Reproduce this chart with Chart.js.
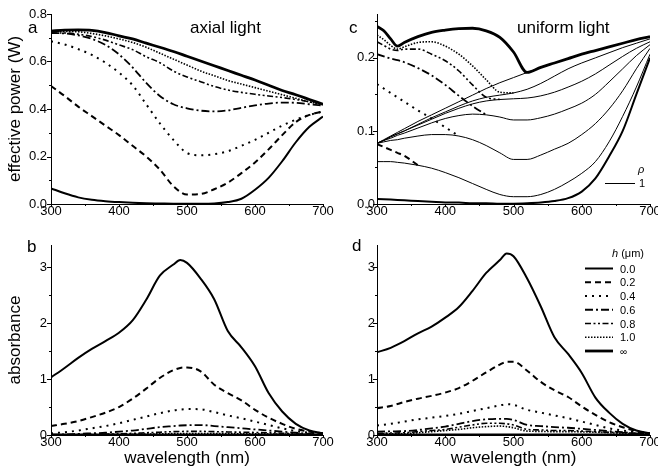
<!DOCTYPE html>
<html>
<head>
<meta charset="utf-8">
<script src="https://cdn.jsdelivr.net/npm/chart.js@4.4.0/dist/chart.umd.min.js"></script>
<style>
  html, body { margin: 0; padding: 0; background: #fff; }
  #wrap { position: relative; width: 658px; height: 473px; overflow: hidden; }
  #wrap canvas { position: absolute; left: 0; top: 0; }
</style>
</head>
<body>
<div id="wrap">
  <canvas id="panelA" width="658" height="473"></canvas>
  <canvas id="panelB" width="658" height="473"></canvas>
  <canvas id="panelC" width="658" height="473"></canvas>
  <canvas id="panelD" width="658" height="473"></canvas>
</div>
<script>
// ---------- data ----------
const hLabels = ['0.0', '0.2', '0.4', '0.6', '0.8', '1.0', '\u221E'];

// (a) effective power (W), axial light
const wavelength = [300,320,340,360,380,400,420,440,460,480,500,520,540,560,580,600,620,640,660,680,700];
const axialH00  = [0.066,0.045,0.028,0.018,0.012,0.008,0.005,0.003,0.002,0.001,0.001,0.001,0.002,0.008,0.022,0.06,0.11,0.18,0.26,0.325,0.368];
const axialH02  = [0.497,0.455,0.41,0.37,0.33,0.29,0.245,0.2,0.145,0.075,0.04,0.042,0.062,0.09,0.13,0.175,0.23,0.29,0.345,0.375,0.39];
const axialH04  = [0.685,0.672,0.652,0.628,0.595,0.553,0.5,0.42,0.34,0.27,0.215,0.205,0.21,0.222,0.245,0.27,0.3,0.33,0.355,0.375,0.39];
const axialH06  = [0.72,0.718,0.71,0.695,0.67,0.63,0.575,0.51,0.455,0.42,0.403,0.393,0.39,0.394,0.405,0.415,0.423,0.427,0.426,0.42,0.415];
const axialH08  = [0.72,0.72,0.715,0.705,0.69,0.67,0.65,0.62,0.595,0.56,0.535,0.515,0.495,0.48,0.47,0.462,0.455,0.448,0.44,0.43,0.42];
const axialH10  = [0.725,0.727,0.725,0.718,0.708,0.695,0.68,0.66,0.635,0.61,0.585,0.56,0.54,0.52,0.505,0.49,0.475,0.46,0.445,0.43,0.418];
const axialHInf = [0.728,0.732,0.733,0.731,0.722,0.708,0.695,0.677,0.66,0.642,0.622,0.602,0.582,0.562,0.542,0.522,0.5,0.478,0.46,0.44,0.42];

// (b) and (d) absorbance
const absWave = [300,320,340,360,380,400,420,440,460,480,490,500,520,540,560,580,600,620,640,660,680,700];
const absAxialH00  = [1.03,1.2,1.38,1.54,1.68,1.83,2.05,2.42,2.85,3.05,3.13,3.08,2.8,2.43,1.86,1.57,1.23,0.75,0.42,0.2,0.08,0.03];
const absAxialH02  = [0.16,0.2,0.25,0.32,0.4,0.5,0.65,0.83,1.02,1.16,1.2,1.21,1.14,0.9,0.75,0.62,0.45,0.31,0.2,0.11,0.06,0.03];
const absAxialH04  = [0.03,0.05,0.08,0.12,0.16,0.21,0.27,0.33,0.39,0.44,0.455,0.465,0.46,0.41,0.35,0.3,0.24,0.18,0.12,0.07,0.04,0.02];
const absAxialH06  = [0.005,0.01,0.02,0.03,0.04,0.06,0.08,0.11,0.14,0.16,0.17,0.175,0.178,0.16,0.14,0.12,0.1,0.08,0.06,0.04,0.02,0.01];
const absAxialH08  = [0.002,0.004,0.007,0.01,0.015,0.02,0.03,0.04,0.05,0.06,0.063,0.065,0.065,0.06,0.055,0.05,0.045,0.04,0.032,0.022,0.012,0.006];
const absAxialH10  = [0.001,0.002,0.003,0.005,0.007,0.01,0.013,0.017,0.021,0.025,0.027,0.028,0.028,0.027,0.025,0.023,0.021,0.019,0.016,0.012,0.007,0.004];
const absAxialHInf = [0,0,0,0,0,0,0,0,0,0,0,0,0,0,0,0,0,0,0,0,0,0];

const absUniformH00  = [1.48,1.56,1.68,1.82,1.94,2.1,2.29,2.58,2.9,3.13,3.25,3.2,2.8,2.3,1.75,1.45,1.11,0.67,0.4,0.2,0.08,0.03];
const absUniformH02  = [0.48,0.52,0.59,0.65,0.7,0.76,0.84,0.97,1.12,1.26,1.31,1.31,1.15,0.95,0.8,0.68,0.51,0.36,0.23,0.14,0.07,0.03];
const absUniformH04  = [0.17,0.2,0.24,0.28,0.31,0.34,0.38,0.43,0.48,0.53,0.55,0.54,0.45,0.4,0.35,0.3,0.24,0.18,0.12,0.08,0.05,0.03];
const absUniformH06  = [0.06,0.065,0.07,0.09,0.12,0.15,0.2,0.25,0.28,0.29,0.29,0.27,0.18,0.16,0.14,0.13,0.11,0.09,0.07,0.05,0.03,0.02];
const absUniformH08  = [0.03,0.035,0.04,0.06,0.08,0.1,0.14,0.18,0.21,0.21,0.2,0.18,0.1,0.09,0.08,0.08,0.07,0.06,0.05,0.04,0.03,0.02];
const absUniformH10  = [0.02,0.022,0.025,0.04,0.06,0.08,0.1,0.13,0.15,0.16,0.15,0.13,0.07,0.065,0.06,0.06,0.055,0.05,0.04,0.03,0.02,0.015];
const absUniformHInf = [0,0,0,0,0,0,0,0,0,0,0,0,0,0,0,0,0,0,0,0,0,0];

// (c) effective power (W), uniform light
const uniWave = [300,310,320,330,340,360,380,400,420,440,460,480,500,520,540,560,580,600,620,640,660,680,700];
// thin solid curves (rho = 1)
const uniRhoH00  = [0.007,0.0065,0.006,0.0055,0.005,0.004,0.003,0.002,0.002,0.001,0.001,0.0005,0.0005,0.001,0.002,0.004,0.008,0.017,0.035,0.065,0.1,0.15,0.2];
const uniRhoH02  = [0.058,0.058,0.058,0.057,0.056,0.053,0.049,0.043,0.036,0.028,0.02,0.013,0.01,0.01,0.013,0.02,0.03,0.042,0.058,0.085,0.12,0.16,0.205];
const uniRhoH04  = [0.083,0.085,0.087,0.088,0.09,0.093,0.095,0.095,0.093,0.088,0.08,0.07,0.061,0.061,0.067,0.075,0.083,0.095,0.11,0.13,0.155,0.185,0.213];
const uniRhoH06  = [0.083,0.087,0.09,0.094,0.097,0.104,0.111,0.117,0.121,0.123,0.122,0.119,0.115,0.115,0.118,0.123,0.13,0.138,0.15,0.167,0.185,0.203,0.218];
const uniRhoH08  = [0.083,0.087,0.092,0.096,0.1,0.108,0.116,0.124,0.131,0.137,0.141,0.143,0.144,0.145,0.148,0.153,0.16,0.168,0.178,0.19,0.202,0.213,0.222];
const uniRhoH10  = [0.083,0.087,0.092,0.096,0.1,0.109,0.118,0.126,0.134,0.141,0.146,0.149,0.152,0.157,0.165,0.175,0.185,0.193,0.2,0.207,0.214,0.22,0.226];
const uniRhoHInf = [0.083,0.088,0.093,0.098,0.103,0.113,0.122,0.131,0.14,0.149,0.158,0.166,0.173,0.18,0.187,0.193,0.199,0.205,0.21,0.215,0.22,0.225,0.229];
// styled curves, ending where they join their thin solid curve
const uniH02  = [0.082,0.078,0.074,0.07,0.066,0.053,null,null,null,null,null,null,null,null,null,null,null,null,null,null,null,null,null];
const uniH04  = [0.164,0.158,0.152,0.146,0.14,0.128,0.117,0.105,0.093,null,null,null,null,null,null,null,null,null,null,null,null,null,null];
const uniH06  = [0.205,0.202,0.199,0.197,0.194,0.186,0.176,0.163,0.148,0.134,0.122,null,null,null,null,null,null,null,null,null,null,null,null];
const uniH08  = [0.222,0.217,0.212,0.21,0.212,0.212,0.205,0.196,0.182,0.163,0.146,0.143,null,null,null,null,null,null,null,null,null,null,null];
const uniH10  = [0.231,0.225,0.217,0.212,0.215,0.221,0.222,0.216,0.205,0.189,0.17,0.153,0.152,null,null,null,null,null,null,null,null,null,null];
const uniHInf = [0.243,0.237,0.226,0.216,0.221,0.229,0.235,0.238,0.24,0.2405,0.237,0.228,0.208,0.18,0.187,0.193,0.199,0.205,0.21,0.215,0.22,0.225,0.229];

// ---------- styles ----------
const FONT = '"Liberation Sans", Arial, Helvetica, sans-serif';
const lineStyles = [
  { dash: [],                 width: 2.0 },  // 0.0
  { dash: [6, 4],             width: 2.0 },  // 0.2
  { dash: [2, 5],             width: 2.0 },  // 0.4
  { dash: [8, 3, 2, 3],       width: 1.8 },  // 0.6
  { dash: [6, 2.5, 2, 2.5, 2, 2.5], width: 1.6 }, // 0.8
  { dash: [1.5, 1.5],         width: 1.6 },  // 1.0
  { dash: [],                 width: 2.8 }   // infinity
];

function toPoints(xs, ys) {
  return xs.map((x, i) => ({ x: x, y: ys[i] }));
}
function styledSet(xs, ys, k, extra) {
  return Object.assign({
    label: 'h = ' + hLabels[k],
    data: toPoints(xs, ys),
    borderColor: '#000',
    borderWidth: lineStyles[k].width,
    borderDash: lineStyles[k].dash,
    pointRadius: 0,
    fill: false,
    cubicInterpolationMode: 'monotone',
    spanGaps: false
  }, extra || {});
}

// major/minor tick marks drawn outside the axes
function tickMarks(xMajor, xMinor, yMajor, yMinor) {
  return {
    id: 'tickMarks',
    afterDraw(chart) {
      const { ctx, chartArea: a, scales: { x, y } } = chart;
      ctx.save();
      ctx.strokeStyle = '#000';
      ctx.lineWidth = 1;
      ctx.setLineDash([]);
      ctx.beginPath();
      const isMajor = (v, m) => Math.abs(v / m - Math.round(v / m)) < 1e-6;
      for (let i = 0; x.min + i * xMinor <= x.max + 1e-9; i++) {
        const v = x.min + i * xMinor;
        const px = Math.round(x.getPixelForValue(v)) + 0.5;
        ctx.moveTo(px, a.bottom);
        ctx.lineTo(px, a.bottom + (isMajor(v, xMajor) ? 3 : 2));
      }
      for (let i = 0; y.min + i * yMinor <= y.max + 1e-9; i++) {
        const v = y.min + i * yMinor;
        const py = Math.round(y.getPixelForValue(v)) + 0.5;
        ctx.moveTo(a.left, py);
        ctx.lineTo(a.left - (isMajor(v, yMajor) ? 4 : 2), py);
      }
      ctx.stroke();
      ctx.restore();
    }
  };
}

function makePanel(id, p) {
  const W = 658, H = 473;
  const decor = { id: 'decor', afterDraw(chart) { chart.ctx.save(); p.decor(chart.ctx); chart.ctx.restore(); } };
  return new Chart(document.getElementById(id), {
    type: 'line',
    data: { datasets: p.datasets },
    options: {
      responsive: false,
      animation: false,
      devicePixelRatio: 1,
      layout: {
        padding: {
          left: p.area.left - p.yAxisW,
          top: p.area.top,
          right: W - p.area.right,
          bottom: H - p.area.bottom - p.xAxisH
        }
      },
      plugins: { legend: { display: false }, tooltip: { enabled: false } },
      scales: {
        x: {
          type: 'linear', min: 300, max: 700,
          afterFit(s) { s.height = p.xAxisH; s.paddingLeft = 0; s.paddingRight = 0; },
          grid: { display: false, drawTicks: false },
          border: { display: true, color: '#000', width: 1 },
          ticks: { stepSize: 100, includeBounds: false, autoSkip: false, maxRotation: 0, padding: 0,
                   color: '#000', font: { family: FONT, size: 13 }, callback: v => String(v) },
          title: p.xTitle ? { display: true, text: p.xTitle, color: '#000',
                   font: { family: FONT, size: 17 }, padding: { top: 0, bottom: 4 } } : { display: false }
        },
        y: {
          type: 'linear', min: 0, max: p.yMax,
          afterFit(s) { s.width = p.yAxisW; s.paddingTop = 0; s.paddingBottom = 0; },
          grid: { display: false, drawTicks: false },
          border: { display: true, color: '#000', width: 1 },
          ticks: { stepSize: p.yStep, includeBounds: false, autoSkip: false, padding: p.yPad,
                   color: '#000', font: { family: FONT, size: 13 }, callback: p.yFmt },
          title: p.yTitle ? { display: true, text: p.yTitle, color: '#000',
                   font: { family: FONT, size: 17 }, padding: { top: 5, bottom: 0 } } : { display: false }
        }
      }
    },
    plugins: [tickMarks(100, 50, p.yStep, p.yStep / 2), decor]
  });
}

function label(ctx, text, x, y, size, italic) {
  ctx.font = (italic ? 'italic ' : '') + size + 'px ' + FONT;
  ctx.fillStyle = '#000';
  ctx.textAlign = 'left';
  ctx.textBaseline = 'alphabetic';
  ctx.fillText(text, x, y);
  return ctx.measureText(text).width;
}
function sampleLine(ctx, x0, x1, y, k) {
  ctx.save();
  ctx.strokeStyle = '#000';
  ctx.lineWidth = lineStyles[k].width;
  ctx.setLineDash(lineStyles[k].dash);
  ctx.beginPath();
  ctx.moveTo(x0, y);
  ctx.lineTo(x1, y);
  ctx.stroke();
  ctx.restore();
}

// ---------- panel a ----------
const axialSeries = [axialH00, axialH02, axialH04, axialH06, axialH08, axialH10, axialHInf];
makePanel('panelA', {
  area: { left: 51, top: 14, right: 323, bottom: 204 },
  yAxisW: 51, xAxisH: 20, yPad: 4,
  yMax: 0.8, yStep: 0.2, yFmt: v => v.toFixed(1),
  yTitle: 'effective power (W)',
  datasets: axialSeries.map((s, k) => styledSet(wavelength, s, k)),
  decor(ctx) {
    label(ctx, 'a', 28, 33, 17);
    label(ctx, 'axial light', 190, 33, 17);
  }
});

// ---------- panel b ----------
const absAxialSeries = [absAxialH00, absAxialH02, absAxialH04, absAxialH06, absAxialH08, absAxialH10, absAxialHInf];
makePanel('panelB', {
  area: { left: 51, top: 245, right: 323, bottom: 435 },
  yAxisW: 51, xAxisH: 38, yPad: 4,
  yMax: 3.4, yStep: 1, yFmt: v => String(v),
  yTitle: 'absorbance', xTitle: 'wavelength (nm)',
  datasets: absAxialSeries.map((s, k) => styledSet(absWave, s, k)),
  decor(ctx) {
    label(ctx, 'b', 27, 252, 17);
  }
});

// ---------- panel c ----------
const uniRhoSeries = [uniRhoH00, uniRhoH02, uniRhoH04, uniRhoH06, uniRhoH08, uniRhoH10, uniRhoHInf];
const uniStyled = [null, uniH02, uniH04, uniH06, uniH08, uniH10, uniHInf];
const cSets = uniRhoSeries.map((s, k) => styledSet(uniWave, s, 0,
  { label: 'rho = 1, h = ' + hLabels[k], borderWidth: k === 0 ? 2 : 1 }));
uniStyled.forEach((s, k) => { if (s) cSets.push(styledSet(uniWave, s, k)); });
makePanel('panelC', {
  area: { left: 377, top: 14, right: 650, bottom: 204 },
  yAxisW: 40, xAxisH: 20, yPad: 2,
  yMax: 0.26, yStep: 0.1, yFmt: v => v.toFixed(1),
  datasets: cSets,
  decor(ctx) {
    label(ctx, 'c', 349, 33, 17);
    label(ctx, 'uniform light', 517, 33, 17);
    label(ctx, '\u03C1', 638, 173, 11, true);
    ctx.save();
    ctx.strokeStyle = '#000'; ctx.lineWidth = 1;
    ctx.beginPath(); ctx.moveTo(605, 183.5); ctx.lineTo(635, 183.5); ctx.stroke();
    ctx.restore();
    label(ctx, '1', 639, 187, 11);
  }
});

// ---------- panel d ----------
const absUniformSeries = [absUniformH00, absUniformH02, absUniformH04, absUniformH06, absUniformH08, absUniformH10, absUniformHInf];
makePanel('panelD', {
  area: { left: 377, top: 245, right: 650, bottom: 435 },
  yAxisW: 40, xAxisH: 38, yPad: 2,
  yMax: 3.4, yStep: 1, yFmt: v => String(v),
  xTitle: 'wavelength (nm)',
  datasets: absUniformSeries.map((s, k) => styledSet(absWave, s, k)),
  decor(ctx) {
    label(ctx, 'd', 352, 251, 17);
    const w = label(ctx, 'h', 612, 257, 11, true);
    label(ctx, ' (\u03BCm)', 612 + w, 257, 11);
    hLabels.forEach((t, k) => {
      const y = 268.5 + k * 13.75;
      sampleLine(ctx, 585, 613, y, k);
      label(ctx, t, 620, y + 4, k === 6 ? 10 : 11);
    });
  }
});
</script>
</body>
</html>
